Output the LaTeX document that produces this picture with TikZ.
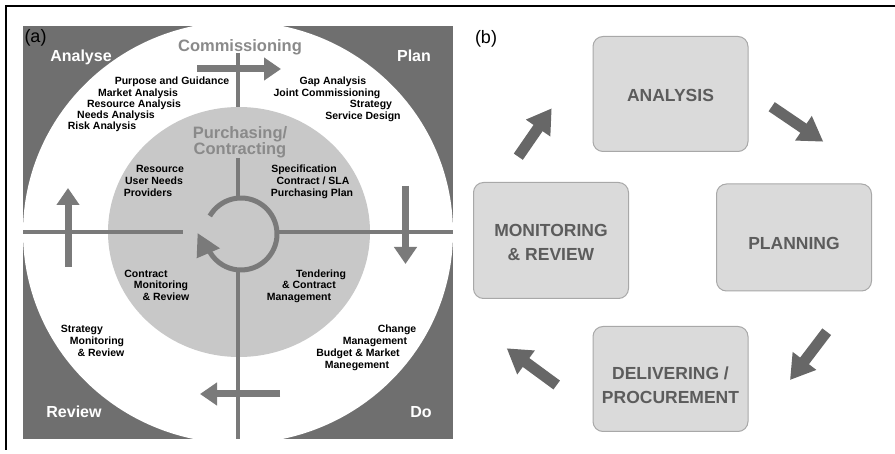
\documentclass[tikz,border=0pt]{standalone}
\usepackage{fontspec}
\setmainfont{Liberation Sans}
\usetikzlibrary{arrows.meta}

\definecolor{panelgray}{HTML}{6F6F6F}
\definecolor{linegray}{HTML}{7A7A7A}
\definecolor{innergray}{HTML}{C8C8C8}
\definecolor{titlegray}{HTML}{8A8A8A}
\definecolor{boxfill}{HTML}{DADADA}
\definecolor{boxline}{HTML}{A8A8A8}
\definecolor{boxtext}{HTML}{5C5C5C}
\definecolor{arrowgray}{HTML}{676767}

\begin{document}
\begin{tikzpicture}[x=1pt,y=1pt,
  item/.style={anchor=base,font=\bfseries\fontsize{10.5}{12}\selectfont},
  corner/.style={anchor=base,text=white,font=\bfseries\fontsize{16}{18}\selectfont},
  title/.style={text=titlegray,font=\bfseries\fontsize{16.5}{15}\selectfont},
  panel/.style={anchor=base,font=\fontsize{18}{20}\selectfont},
  stage/.style={draw=boxline,fill=boxfill,rounded corners=10pt,line width=1pt,
    minimum width=155pt},
  stagetext/.style={text=boxtext,align=center,
    font=\bfseries\fontsize{17.5}{24}\selectfont},
  cyclearrow/.style={linegray,line width=7pt,-{Triangle[width=22pt,length=17pt]}},
  blockarrow/.style={arrowgray,line width=11pt,-{Triangle[width=28pt,length=24pt]}}]
\tikzstyle{every node}+=[inner sep=0pt]
\useasboundingbox (0,0) rectangle (895,-454);
\draw [black,line width=1.2pt] (6,-450) -- (6,-6) -- (895,-6);

% (a) commissioning cycle
\fill [panelgray] (23,-26) rectangle (453,-439);
\begin{scope}
\clip (23,-26) rectangle (453,-439);
\fill [white] (238,-232.5) ellipse (215 and 211);
\end{scope}
\fill [innergray] (239,-232) ellipse (131 and 125);
\draw [linegray,line width=3.5pt] (238,-53) -- (238,-107);
\draw [linegray,line width=3.5pt] (238,-158) -- (238,-198);
\draw [linegray,line width=3.5pt] (238,-270) -- (238,-439);
\draw [linegray,line width=3.5pt] (23,-232) -- (183,-232);
\draw [linegray,line width=3.5pt] (278,-232) -- (453,-232);
\draw [linegray,line width=5pt] (241,-234) ++(150:36) arc [start angle=150,end angle=-150,radius=36];
\fill [linegray] (197.7,-233.3) -- (196.7,-258.3) -- (220,-248.3) -- cycle;

\coordinate (topS) at (197,-69);
\coordinate (topE) at (281,-69);
\coordinate (rightS) at (405.5,-186);
\coordinate (rightE) at (405.5,-264);
\coordinate (bottomS) at (280,-394);
\coordinate (bottomE) at (200,-394);
\coordinate (leftS) at (68,-267);
\coordinate (leftE) at (68,-188);
\draw [cyclearrow] (topS) -- (topE);
\draw [cyclearrow] (rightS) -- (rightE);
\draw [cyclearrow] (bottomS) -- (bottomE);
\draw [cyclearrow] (leftS) -- (leftE);

\node [panel] (labelA) at (35.5,-43) {(a)};
\node [corner] (analyse) at (81,-62) {Analyse};
\node [corner] (plan) at (414,-62) {Plan};
\node [corner] (review) at (74,-418) {Review};
\node [corner] (do) at (421,-418) {Do};
\node [anchor=base,text=titlegray,font=\bfseries\fontsize{16.5}{18}\selectfont] (commissioning) at (240,-52) {Commissioning};
\node [title,align=center] (purchasing) at (240,-142) {Purchasing/\\Contracting};

\node [item] (purpose) at (172,-85) {Purpose and Guidance};
\node [item] (market) at (138,-97) {Market Analysis};
\node [item] (resource) at (134,-108) {Resource Analysis};
\node [item] (needs) at (116,-119) {Needs Analysis};
\node [item] (risk) at (102,-130) {Risk Analysis};
\node [item] (gap) at (333,-85) {Gap Analysis};
\node [item] (joint) at (327,-97) {Joint Commissioning};
\node [item] (strategy) at (371,-108) {Strategy};
\node [item] (service) at (363,-120) {Service Design};
\node [item] (resourceIn) at (160,-173) {Resource};
\node [item] (userneeds) at (154,-185) {User Needs};
\node [item] (providers) at (148,-197) {Providers};
\node [item] (spec) at (304,-173) {Specification};
\node [item] (sla) at (313,-185) {Contract / SLA};
\node [item] (pplan) at (312,-197) {Purchasing Plan};
\node [item] (contract) at (146,-278) {Contract};
\node [item] (cmon) at (161,-289) {Monitoring};
\node [item] (crev) at (166,-301) {\& Review};
\node [item] (tender) at (321,-278) {Tendering};
\node [item] (tcontract) at (309,-289) {\& Contract};
\node [item] (tman) at (299,-301) {Management};
\node [item] (sstrat) at (82,-333) {Strategy};
\node [item] (smon) at (97,-345) {Monitoring};
\node [item] (srev) at (101,-357) {\& Review};
\node [item] (change) at (397,-333) {Change};
\node [item] (cman) at (375,-345) {Management};
\node [item] (budget) at (358,-357) {Budget \& Market};
\node [item] (bman) at (357,-369) {Manegement};

% (b) four stages
\node [panel] (labelB) at (486,-44) {(b)};
\node [stage,minimum height=115pt] (analysis) at (670.5,-94) {};
\node [stage,minimum height=107pt] (planning) at (794,-237.5) {};
\node [stage,minimum height=105pt] (delivering) at (670.5,-379) {};
\node [stage,minimum height=116pt] (monitoring) at (551,-240.5) {};
\node [stagetext] (analysisText) at ([yshift=-1pt]analysis.center) {ANALYSIS};
\node [stagetext] (planningText) at ([yshift=-6pt]planning.center) {PLANNING};
\node [stagetext] (deliveringText) at ([yshift=-6pt]delivering.center) {DELIVERING /\\PROCUREMENT};
\node [stagetext] (monitoringText) at ([yshift=-2pt]monitoring.center) {MONITORING\\\& REVIEW};

\coordinate (a2pS) at (771.7,-106.7);
\coordinate (a2pE) at (823.3,-141.7);
\coordinate (p2dS) at (826.7,-331.7);
\coordinate (p2dE) at (790,-380);
\coordinate (d2mS) at (556.7,-385);
\coordinate (d2mE) at (506.7,-348.3);
\coordinate (m2aS) at (518.3,-156.7);
\coordinate (m2aE) at (551.7,-108.3);
\draw [blockarrow] (a2pS) -- (a2pE);
\draw [blockarrow] (p2dS) -- (p2dE);
\draw [blockarrow] (d2mS) -- (d2mE);
\draw [blockarrow] (m2aS) -- (m2aE);
\end{tikzpicture}
\end{document}
